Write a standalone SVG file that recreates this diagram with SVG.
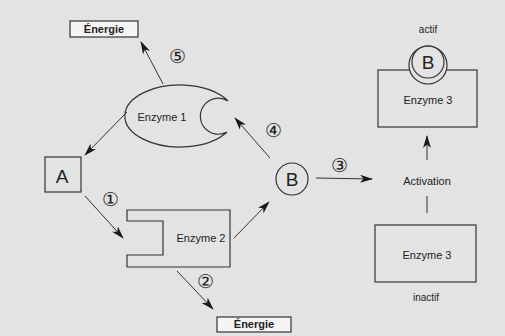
<svg xmlns="http://www.w3.org/2000/svg" width="505" height="336" viewBox="0 0 505 336">
<defs>
<style>
.ln{stroke:#333;stroke-width:1;fill:none}
.shape{stroke:#333;stroke-width:1.2;fill:none}
.box{stroke:#333;stroke-width:1.2;fill:#f5f5f5}
.t{font-family:"Liberation Sans",Arial,sans-serif;font-size:11px;fill:#222;text-anchor:middle}
.b{font-weight:bold}
.big{font-family:"Liberation Sans",Arial,sans-serif;font-size:19px;fill:#222;text-anchor:middle}
.n{font-family:"DejaVu Serif",serif;font-size:19px;fill:#222;text-anchor:middle}
</style>
<marker id="ah" viewBox="0 0 13 8" refX="12" refY="4" markerWidth="13" markerHeight="8" markerUnits="userSpaceOnUse" orient="auto">
<path d="M0,0 L13,4 L0,8 L3.5,4 Z" fill="#1a1a1a"/>
</marker>
</defs>
<rect x="0" y="0" width="505" height="336" fill="#e3e3e3"/>

<g id="connectors">
<line class="ln" x1="163" y1="84" x2="141" y2="42" marker-end="url(#ah)"/>
<line class="ln" x1="127" y1="112" x2="85" y2="155" marker-end="url(#ah)"/>
<line class="ln" x1="85" y1="196" x2="123" y2="238" marker-end="url(#ah)"/>
<line class="ln" x1="234" y1="238" x2="269" y2="202" marker-end="url(#ah)"/>
<line class="ln" x1="177" y1="271" x2="213" y2="309" marker-end="url(#ah)"/>
<line class="ln" x1="270" y1="158" x2="235" y2="118" marker-end="url(#ah)"/>
<line class="ln" x1="316" y1="178" x2="372" y2="179" marker-end="url(#ah)"/>
<line class="ln" x1="427" y1="196" x2="427" y2="213"/>
<line class="ln" x1="427" y1="160" x2="427" y2="136" marker-end="url(#ah)"/>
<text class="n" x="177" y="63">⑤</text>
<text class="n" x="273" y="137">④</text>
<text class="n" x="110" y="206">①</text>
<text class="n" x="205" y="288">②</text>
<text class="n" x="339" y="172">③</text>
</g>

<g id="energie-top">
<rect class="box" x="70" y="21" width="68" height="16"/>
<text class="t b" x="104" y="33">Énergie</text>
</g>

<g id="enzyme1">
<path class="shape" d="M228,101 A55,31 0 1 0 227,132 A18,18 0 1 1 228,101 Z"/>
<text class="t" x="162" y="121">Enzyme 1</text>
</g>

<g id="A">
<rect class="shape" x="45" y="157" width="36" height="35"/>
<text class="big" x="62" y="183">A</text>
</g>

<g id="enzyme2">
<path class="shape" d="M127,210 L230,210 L230,267 L127,267 L127,255 L163,255 L163,221 L127,221 Z"/>
<text class="t" x="201" y="242">Enzyme 2</text>
</g>

<g id="energie-bottom">
<rect class="box" x="217" y="317" width="74" height="15"/>
<text class="t b" x="254" y="328">Énergie</text>
</g>

<g id="B">
<circle class="shape" cx="292" cy="179" r="16"/>
<text class="big" x="292" y="186">B</text>
</g>

<g id="activation">
<text class="t" x="427" y="185">Activation</text>
</g>

<g id="enzyme3-actif">
<text class="t" x="428" y="33" style="font-size:10px">actif</text>
<rect class="shape" x="378" y="70" width="99" height="57"/>
<circle cx="428" cy="65" r="19" fill="#e3e3e3" stroke="#333" stroke-width="1.2"/>
<circle class="shape" cx="428" cy="62" r="16"/>
<text class="big" x="428" y="69">B</text>
<text class="t" x="428" y="104">Enzyme 3</text>
</g>

<g id="enzyme3-inactif">
<rect class="shape" x="375" y="225" width="101" height="57"/>
<text class="t" x="427" y="259">Enzyme 3</text>
<text class="t" x="426" y="301" style="font-size:10px">inactif</text>
</g>
</svg>
